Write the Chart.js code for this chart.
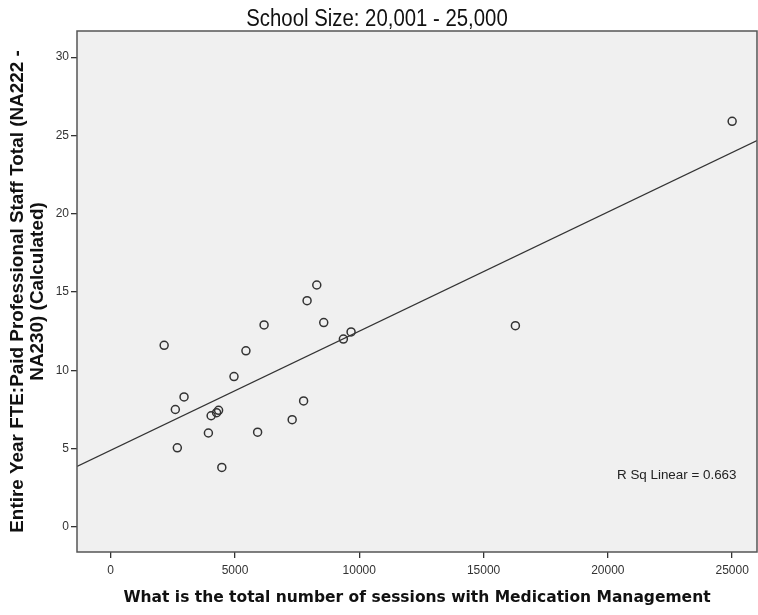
<!DOCTYPE html>
<html>
<head>
<meta charset="utf-8">
<script src="https://cdn.jsdelivr.net/npm/chart.js"></script>
<style>
  html, body { margin: 0; padding: 0; background: #fff; }
  #wrap { width: 758px; height: 615px; }
</style>
</head>
<body>
<div id="wrap"><canvas id="myChart" width="758" height="615"></canvas></div>
<script>
// sessions with medication management (x) vs paid professional staff FTE (y)
const sessions = [2150, 2950, 2600, 2680, 4960, 5440, 6170, 3930, 4040, 4260, 4340, 4470, 5910, 7300, 7760, 7900, 8290, 8570, 9360, 9670, 16280, 25000];
const staffFte = [11.6, 8.3, 7.5, 5.05, 9.6, 11.25, 12.9, 6.0, 7.1, 7.3, 7.45, 3.8, 6.05, 6.85, 8.05, 14.45, 15.45, 13.05, 12.0, 12.45, 12.85, 25.9];

// linear fit line as drawn (end points)
const fitX = [-1356, 26000];
const fitY = [3.87, 24.68];

const xTicks = [0, 5000, 10000, 15000, 20000, 25000];
const yTicks = [0, 5, 10, 15, 20, 25, 30];
const chartTitle = "School Size: 20,001 - 25,000";
const rSqLabel = "R Sq Linear = 0.663";

const points = sessions.map((x, i) => ({x: x, y: staffFte[i]}));
const fitLine = fitX.map((x, i) => ({x: x, y: fitY[i]}));

const frame = {
  id: "frame",
  beforeDraw(chart) {
    const a = chart.chartArea, ctx = chart.ctx;
    ctx.save();
    ctx.fillStyle = "#f0f0f0";
    ctx.fillRect(a.left, a.top, a.right - a.left, a.bottom - a.top);
    ctx.restore();
  },
  afterDraw(chart) {
    const a = chart.chartArea, ctx = chart.ctx;
    ctx.save();
    ctx.strokeStyle = "#555";
    ctx.lineWidth = 1.5;
    ctx.strokeRect(a.left, a.top, a.right - a.left, a.bottom - a.top);
    // R squared note
    ctx.fillStyle = "#222";
    ctx.font = "13.4px 'Liberation Sans', Arial, sans-serif";
    ctx.textBaseline = "middle";
    ctx.fillText(rSqLabel, 617, 475);
    // narrow title (no condensed font installed, so squeeze it)
    ctx.font = "23px 'Liberation Sans', Arial, sans-serif";
    ctx.textAlign = "center";
    ctx.textBaseline = "alphabetic";
    ctx.fillStyle = "#111";
    ctx.translate(377, 26);
    ctx.scale(0.885, 1);
    ctx.fillText(chartTitle, 0, 0);
    ctx.restore();
  }
};

new Chart("myChart", {
  type: "scatter",
  data: {
    datasets: [{
      data: points,
      pointStyle: "circle",
      pointRadius: 4,
      pointBorderWidth: 1.5,
      borderColor: "#333",
      backgroundColor: "rgba(0,0,0,0)"
    }, {
      type: "line",
      data: fitLine,
      borderColor: "#333",
      borderWidth: 1.2,
      pointRadius: 0,
      fill: false
    }]
  },
  options: {
    responsive: false,
    animation: false,
    layout: {autoPadding: false, padding: {top: 31, right: 1, left: 0, bottom: 0}},
    plugins: {
      legend: {display: false},
      tooltip: {enabled: false},
      title: {display: false}
    },
    scales: {
      x: {
        type: "linear",
        min: -1356,
        max: 26000,
        afterBuildTicks: s => { s.ticks = xTicks.map(v => ({value: v})); },
        afterFit: s => { s.height = 63; s.paddingLeft = 0; s.paddingRight = 0; },
        grid: {drawOnChartArea: false, drawTicks: true, tickLength: 6, color: "#333", lineWidth: 1.3},
        border: {display: false},
        ticks: {color: "#333", font: {family: "'Liberation Sans', Arial, sans-serif", size: 12}, padding: 5, maxRotation: 0, callback: v => String(v)},
        title: {
          display: true,
          text: "What is the total number of sessions with Medication Management",
          color: "#111",
          font: {family: "'DejaVu Sans', Verdana, sans-serif", size: 15.5, weight: "bold", lineHeight: 1.2},
          padding: {top: 4, bottom: 8}
        }
      },
      y: {
        type: "linear",
        min: -1.6,
        max: 31.67,
        afterBuildTicks: s => { s.ticks = yTicks.map(v => ({value: v})); },
        afterFit: s => { s.width = 77; s.paddingTop = 0; s.paddingBottom = 0; },
        grid: {drawOnChartArea: false, drawTicks: true, tickLength: 6, color: "#333", lineWidth: 1.3},
        border: {display: false},
        ticks: {color: "#333", font: {family: "'Liberation Sans', Arial, sans-serif", size: 12}, padding: 2, callback: v => String(v)},
        title: {
          display: true,
          text: ["Entire Year FTE:Paid Professional Staff Total (NA222 -", "NA230) (Calculated)"],
          color: "#111",
          font: {family: "'Liberation Sans', Arial, sans-serif", size: 18.9, weight: "bold", lineHeight: 1.04},
          padding: {top: 8, bottom: 0}
        }
      }
    }
  },
  plugins: [frame]
});
</script>
</body>
</html>
